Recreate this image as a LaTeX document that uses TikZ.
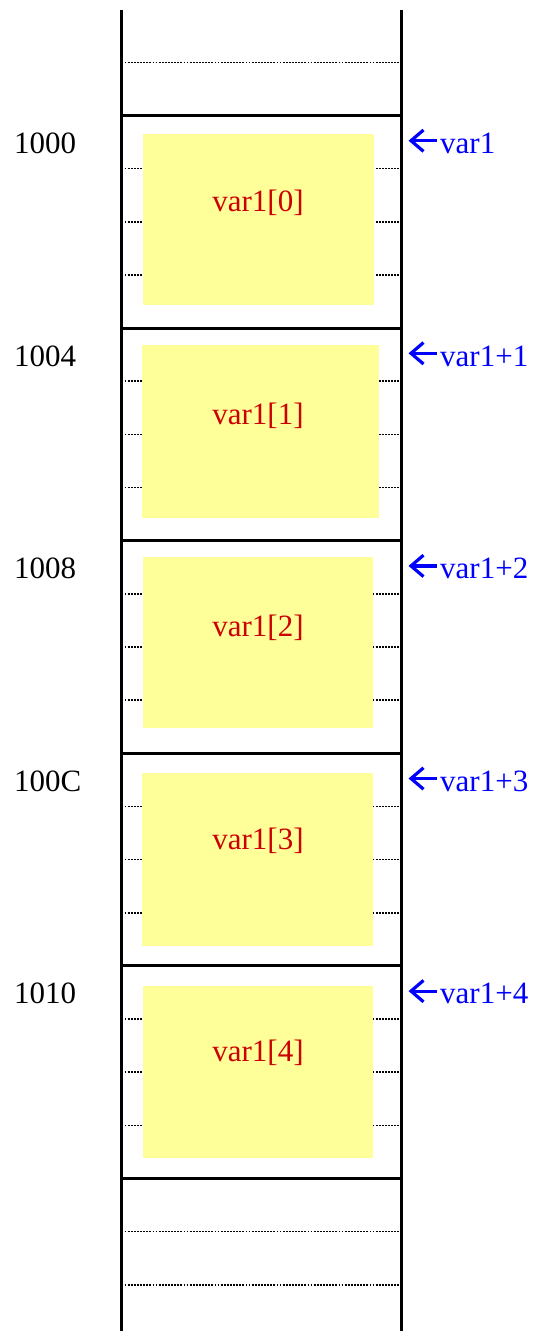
\documentclass[tikz,border=0pt]{standalone}
\usepackage{fontspec}
\setmainfont{Liberation Serif}
\definecolor{cellfill}{RGB}{255,255,153}
\definecolor{cellred}{RGB}{204,0,0}
\definecolor{ptrblue}{RGB}{0,0,255}
\begin{document}
\begin{tikzpicture}[x=1bp,y=-1bp,
  wall/.style={line width=3bp,line cap=butt},
  sep/.style={line width=3bp},
  byte/.style={line width=1.6bp,dash pattern=on 1.8bp off 1.3bp},
  celltext/.style={text=cellred,font=\fontsize{31bp}{36bp}\selectfont,inner sep=0pt,anchor=base},
  addr/.style={font=\fontsize{31bp}{36bp}\selectfont,inner sep=0pt,anchor=base west},
  ptr/.style={text=ptrblue,font=\fontsize{31bp}{36bp}\selectfont,inner sep=0pt,anchor=base west},
  ptrarrow/.style={draw=ptrblue,line width=3.2bp,line join=miter}]
  \useasboundingbox (0,0) rectangle (534,1331);

  % rails of the memory column
  \coordinate (lt) at (121.5,10);
  \coordinate (lb) at (121.5,1331);
  \coordinate (rt) at (401.5,10);
  \coordinate (rb) at (401.5,1331);

  % byte separators outside the array
  \coordinate (d0l) at (121.5,62.4);   \coordinate (d0r) at (401.5,62.4);
  \coordinate (d1l) at (121.5,1231.6); \coordinate (d1r) at (401.5,1231.6);
  \coordinate (d2l) at (121.5,1284.8); \coordinate (d2r) at (401.5,1284.8);
  \draw[byte] (d0l) -- (d0r);
  \draw[byte] (d1l) -- (d1r);
  \draw[byte] (d2l) -- (d2r);

  % array elements: index / address / pointer text / box left / box right / top offset / bottom offset
  \foreach \i/\a/\p/\xl/\xr/\yt/\yb in {0/1000/var1/143/374/18.5/190,
                                         1/1004/var1+1/141.7/379.3/17/190,
                                         2/1008/var1+2/143/373.3/16/187,
                                         3/100C/var1+3/142/373.3/20/193,
                                         4/1010/var1+4/143/373.3/20/191.6}{
    \pgfmathsetmacro{\T}{115.5+212.6*\i}
    \foreach \k in {1,2,3}{
      \pgfmathsetmacro{\yd}{\T+53.15*\k}
      \coordinate (b\i\k l) at (121.5,\yd);
      \coordinate (b\i\k r) at (401.5,\yd);
      \draw[byte] (b\i\k l) -- (b\i\k r);
    }
    \pgfmathsetmacro{\ya}{\T+\yt}
    \pgfmathsetmacro{\yz}{\T+\yb}
    \fill[cellfill] (\xl,\ya) rectangle (\xr,\yz);
    \node[celltext] (v\i) at (258,\T+96) {var1[\i]};
    \node[addr] (a\i) at (14,\T+38) {\a};
    % pointer label with its left arrow
    \node[ptr] (p\i) at (440,\T+38) {\p};
    \coordinate (h\i) at (411,\T+38-12.8);
    \draw[ptrarrow] (h\i) -- ++(25.7,0);
    \draw[ptrarrow] ([shift={(12.5,-10.7)}]h\i) -- (h\i) -- ([shift={(12.5,10.7)}]h\i);
  }

  % word boundaries
  \foreach \j in {0,...,5}{
    \pgfmathsetmacro{\ys}{115.5+212.6*\j}
    \coordinate (s\j l) at (121.5,\ys);
    \coordinate (s\j r) at (401.5,\ys);
    \draw[sep] (s\j l) -- (s\j r);
  }
  \draw[wall] (lt) -- (lb);
  \draw[wall] (rt) -- (rb);
\end{tikzpicture}
\end{document}
